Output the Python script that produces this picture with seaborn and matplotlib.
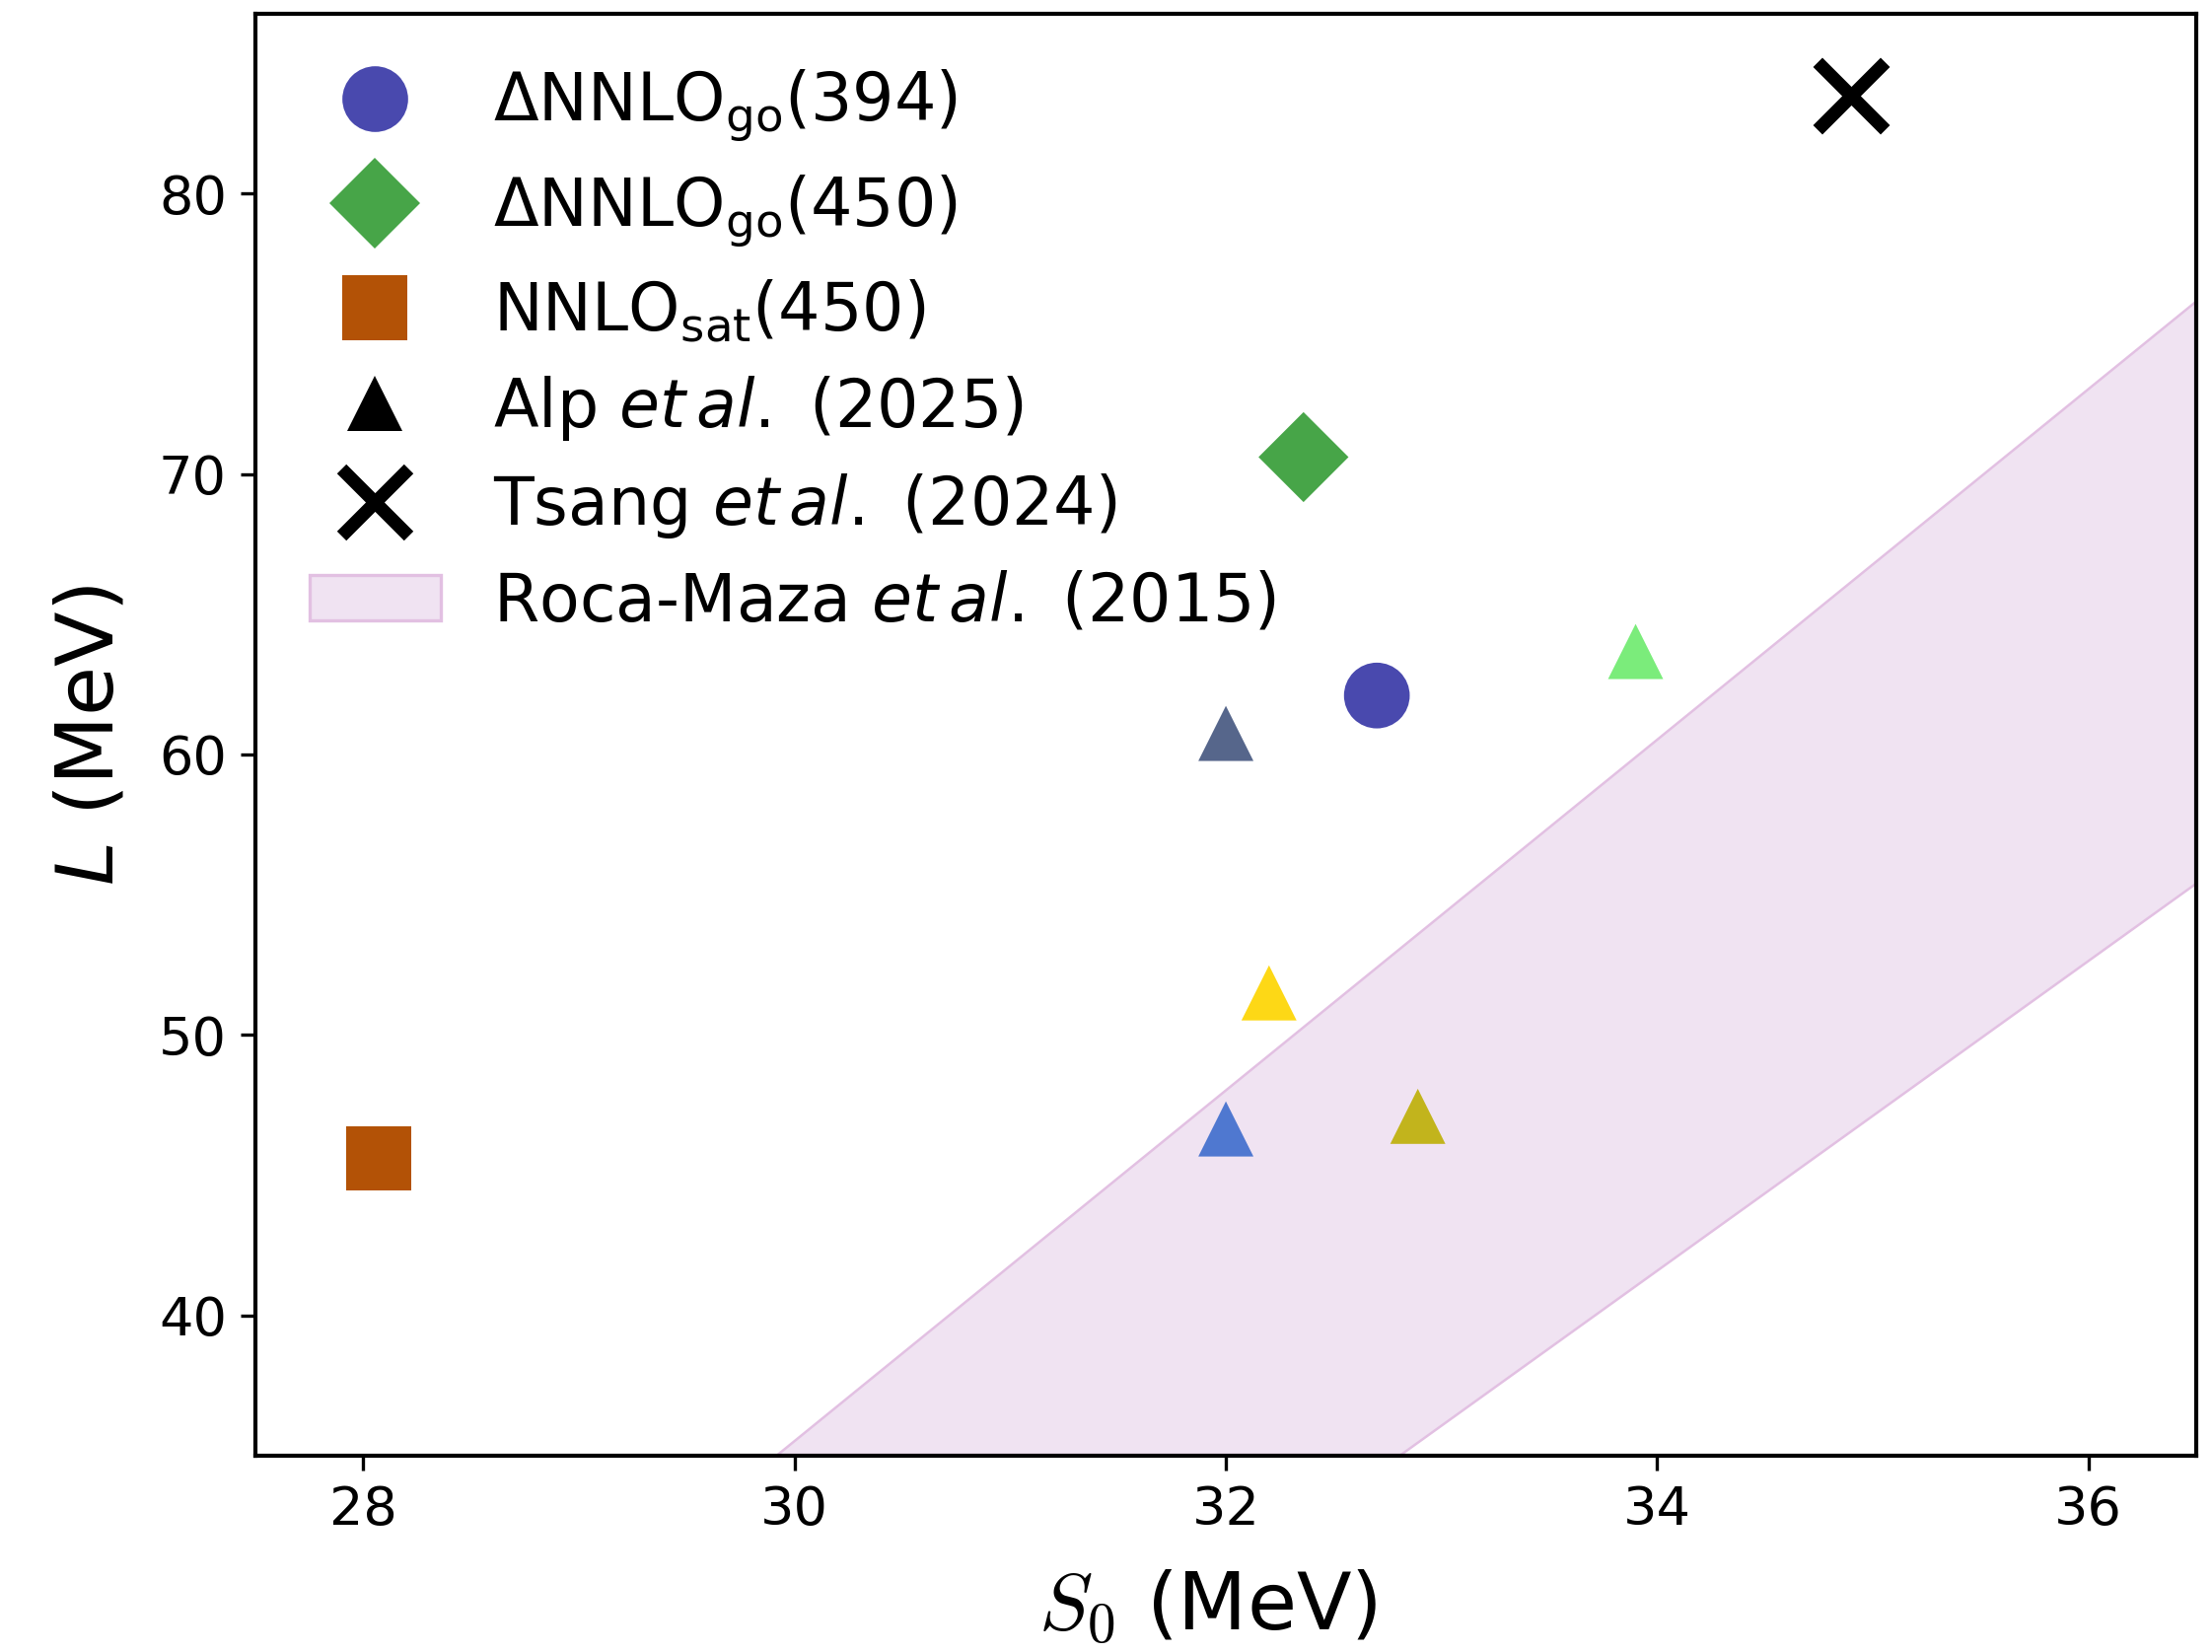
import matplotlib
matplotlib.use("Agg")
import matplotlib.pyplot as plt
from matplotlib.lines import Line2D
from matplotlib.patches import Patch
import seaborn as sns

# Symmetry energy S0 and its slope L (both in MeV)
dnnlo394_s0 = [32.70]
dnnlo394_L = [62.1]
dnnlo450_s0 = [32.36]
dnnlo450_L = [70.6]
nnlosat_s0 = [28.07]
nnlosat_L = [45.6]
tsang_s0 = [34.90]
tsang_L = [83.5]
alp_s0 = [32.00, 33.90, 32.20, 32.00, 32.89]
alp_L = [60.75, 63.67, 51.5, 46.65, 47.1]
alp_ids = ["a", "b", "c", "d", "e"]
alp_colors = ["#56668b", "#7bec7b", "#fdd816", "#4f78d0", "#c2b41c"]

# Roca-Maza et al. (2015) band edges
band_s0 = [27.5, 36.5]
band_upper = [19.9, 76.15]
band_lower = [5.7, 55.4]

labels = [
    r"$\Delta$NNLO$_{\rm go}$(394)",
    r"$\Delta$NNLO$_{\rm go}$(450)",
    r"NNLO$_{\rm sat}$(450)",
    r"Alp $et\,al.$ (2025)",
    r"Tsang $et\,al.$ (2024)",
    r"Roca-Maza $et\,al.$ (2015)",
]
xticks = [28, 30, 32, 34, 36]
yticks = [40, 50, 60, 70, 80]

c394 = "#4949ae"
c450 = "#47a548"
csat = "#b35206"
band_face = "#f0e3f2"
band_edge = "#e2c0e2"

sns.set_theme(style="ticks")
plt.rcParams.update({
    "font.family": ["DejaVu Sans"],
    "mathtext.fontset": "dejavusans",
    "text.color": "black",
    "axes.labelcolor": "black",
    "axes.edgecolor": "black",
    "axes.linewidth": 1.0,
    "xtick.color": "black",
    "ytick.color": "black",
    "xtick.major.size": 3.5,
    "ytick.major.size": 3.5,
    "xtick.major.width": 0.8,
    "ytick.major.width": 0.8,
    "xtick.labelsize": 13,
    "ytick.labelsize": 13,
})

fig = plt.figure(figsize=(2243 / 300, 1675 / 300), dpi=300)
ax = fig.add_axes([0.1155, 0.1188, 0.8774, 0.8728])

ax.fill_between(band_s0, band_lower, band_upper, facecolor=band_face,
                edgecolor=band_edge, linewidth=0.6, zorder=1)

sns.scatterplot(x=dnnlo394_s0, y=dnnlo394_L, marker="o", s=256, color=c394,
                edgecolor="none", legend=False, ax=ax, zorder=3)
sns.scatterplot(x=dnnlo450_s0, y=dnnlo450_L, marker="D", s=240, color=c450,
                edgecolor="none", legend=False, ax=ax, zorder=3)
sns.scatterplot(x=nnlosat_s0, y=nnlosat_L, marker="s", s=250, color=csat,
                edgecolor="none", legend=False, ax=ax, zorder=3)
sns.scatterplot(x=alp_s0, y=alp_L, hue=alp_ids, palette=alp_colors, marker="^",
                s=180, edgecolor="none", legend=False, ax=ax, zorder=3)
sns.scatterplot(x=tsang_s0, y=tsang_L, marker="x", s=270, color="black",
                linewidth=3.2, legend=False, ax=ax, zorder=3)

ax.set_xlim(27.5, 36.5)
ax.set_ylim(35, 86.4)
ax.set_xticks(xticks)
ax.set_yticks(yticks)
ax.set_xticklabels([str(t) for t in xticks])
ax.set_yticklabels([str(t) for t in yticks])

ax.set_xlabel(r"$S_0$ (MeV)", fontsize=19.5, math_fontfamily="cm")
ax.xaxis.set_label_coords(0.4906, -0.078)
ax.set_ylabel(r"$L$ (MeV)", fontsize=19.5, labelpad=7)

handles = [
    Line2D([], [], ls="", marker="o", markersize=16, color=c394, markeredgewidth=0),
    Line2D([], [], ls="", marker="D", markersize=15.5, color=c450, markeredgewidth=0),
    Line2D([], [], ls="", marker="s", markersize=16, color=csat, markeredgewidth=0),
    Line2D([], [], ls="", marker="^", markersize=13.4, color="black", markeredgewidth=0),
    Line2D([], [], ls="", marker="x", markersize=16.4, color="black", markeredgewidth=3.2),
    Patch(facecolor=band_face, edgecolor=band_edge, linewidth=0.8),
]
ax.legend(handles, labels, loc="upper left", frameon=False, fontsize=16,
          labelspacing=0.44, handlelength=2.0, handletextpad=0.8,
          borderaxespad=0.42)

fig.savefig("out.png", dpi=300)
